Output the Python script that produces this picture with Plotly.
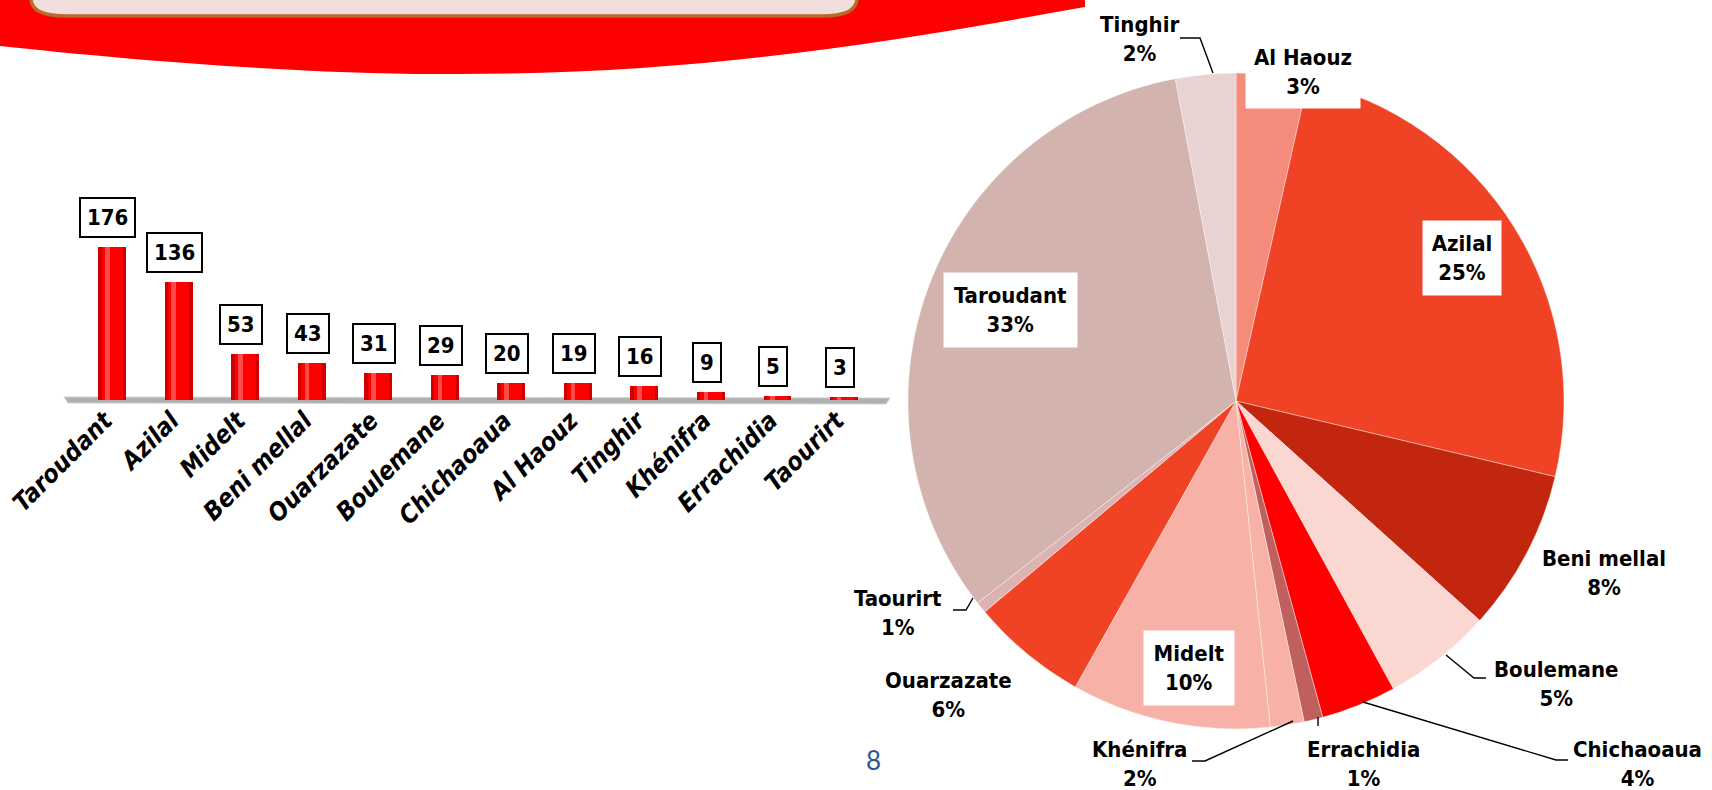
import plotly.graph_objects as go

W, H = 1712, 790

# ---------------- data ----------------
categories = ["Taroudant", "Azilal", "Midelt", "Beni mellal", "Ouarzazate", "Boulemane",
              "Chichaoaua", "Al Haouz", "Tinghir", "Khénifra", "Errachidia", "Taourirt"]
counts = [176, 136, 53, 43, 31, 29, 20, 19, 16, 9, 5, 3]

pie_labels = ["Al Haouz", "Azilal", "Beni mellal", "Boulemane", "Chichaoaua", "Errachidia",
              "Khénifra", "Midelt", "Ouarzazate", "Taourirt", "Taroudant", "Tinghir"]
pie_values = [19, 136, 43, 29, 20, 5, 9, 53, 31, 3, 176, 16]
pie_pct_text = ["3%", "25%", "8%", "5%", "4%", "1%", "2%", "10%", "6%", "1%", "33%", "2%"]

# ---------------- styles ----------------
FONT = "DejaVu Sans Condensed, DejaVu Sans, sans-serif"
pie_colors = ["#F58B7B", "#F04325", "#C3260E", "#FBD7D1", "#FF0000", "#C0605C",
              "#F7B1A6", "#F7B1A6", "#F04325", "#DDB3B2", "#D3B3AD", "#E8D2D2"]
# label placement (pixel centres), boxed flag, box size
pie_label_pos = {
    "Al Haouz": (1303, 72, True, 114, 72),
    "Azilal": (1462, 258, True, 78, 74),
    "Beni mellal": (1604, 573, False, 0, 0),
    "Boulemane": (1556, 684, False, 0, 0),
    "Chichaoaua": (1637, 764, False, 0, 0),
    "Errachidia": (1363, 764, False, 0, 0),
    "Khénifra": (1139, 764, False, 0, 0),
    "Midelt": (1189, 668, True, 90, 74),
    "Ouarzazate": (949, 695, False, 0, 0),
    "Taourirt": (898, 613, False, 0, 0),
    "Taroudant": (1010, 310, True, 133, 74),
    "Tinghir": (1139, 39, False, 0, 0),
}
leaders = [
    [(1180, 38), (1200, 38), (1213, 73)],
    [(1446, 655), (1474, 678), (1486, 678)],
    [(1363, 702), (1556, 760), (1568, 760)],
    [(1318, 717), (1318, 726)],
    [(1293, 721), (1205, 761), (1192, 761)],
    [(953, 610), (966, 610), (973, 598)],
]


def PX(x):
    return x / W


def PY(y):
    return 1 - y / H


def P(x, y):
    return f"{PX(x):.5f},{PY(y):.5f}"


fig = go.Figure()

# cylinder-like bars: dark base, bright body, highlight
fig.add_trace(go.Bar(x=categories, y=counts, width=0.42, marker=dict(color="#D00000", line=dict(width=0)),
                     hoverinfo="skip", showlegend=False))
fig.add_trace(go.Bar(x=categories, y=counts, width=0.32, marker=dict(color="#FF0000", line=dict(width=0)),
                     hoverinfo="skip", showlegend=False))
fig.add_trace(go.Bar(x=categories, y=counts, width=0.07, offset=-0.11,
                     marker=dict(color="#FF4A4A", line=dict(width=0)),
                     hoverinfo="skip", showlegend=False))

fig.add_trace(go.Pie(
    labels=pie_labels, values=pie_values, sort=False, direction="clockwise", rotation=0,
    marker=dict(colors=pie_colors, line=dict(color="white", width=0.4)),
    textinfo="none", hoverinfo="label+percent", showlegend=False,
    domain=dict(x=[PX(908), PX(1564)], y=[PY(729), PY(73)]),
))

annotations = []
# value labels on bars
for c, v in zip(categories, counts):
    annotations.append(dict(
        x=c, y=v, xref="x", yref="y", text=f"<b>{v}</b>", showarrow=False,
        yanchor="bottom", yshift=9, xshift=-4,
        font=dict(family=FONT, size=22, color="black"),
        bgcolor="white", bordercolor="black", borderwidth=2, borderpad=6,
    ))

# pie labels
for lab, pct in zip(pie_labels, pie_pct_text):
    x, y, boxed, bw, bh = pie_label_pos[lab]
    a = dict(x=PX(x), y=PY(y), xref="paper", yref="paper", showarrow=False,
             text=f"<b>{lab}<br>{pct}</b>", align="center",
             xanchor="center", yanchor="middle",
             font=dict(family=FONT, size=22, color="black"))
    if boxed:
        a.update(bgcolor="white", width=bw, height=bh, borderpad=0)
    annotations.append(a)

# page number
annotations.append(dict(x=PX(873), y=PY(760), xref="paper", yref="paper", showarrow=False,
                        text="8", font=dict(family="Lato, Carlito, sans-serif", size=26, color="#2E5597"),
                        xanchor="center", yanchor="middle"))

shapes = []
# red banner
banner = (f"M {P(0, 0)} L {P(1085, 0)} L {P(1085, 7)} "
          f"C {P(900, 40)} {P(700, 76)} {P(437, 74)} "
          f"C {P(300, 74)} {P(130, 60)} {P(0, 46)} Z")
shapes.append(dict(type="path", path=banner, xref="paper", yref="paper",
                   fillcolor="#FF0000", line=dict(width=0), layer="below"))
rrect = (f"M {P(31, -6)} L {P(31, 0)} C {P(32, 11)} {P(45, 16)} {P(67, 16)} "
         f"L {P(822, 16)} C {P(845, 16)} {P(855, 11)} {P(857, 0)} L {P(857, -6)} Z")
shapes.append(dict(type="path", path=rrect, xref="paper", yref="paper",
                   fillcolor="#F2DEDC", line=dict(color="#B86A2B", width=3.5), layer="below"))
# floor under bars
floor = f"M {P(64, 397)} L {P(890, 398)} L {P(886, 404)} L {P(68, 403)} Z"
shapes.append(dict(type="path", path=floor, xref="paper", yref="paper",
                   fillcolor="#B0B0B0", line=dict(color="#D0D0D0", width=1), layer="below"))
# leader lines
for pts in leaders:
    d = "M " + " L ".join(P(x, y) for x, y in pts)
    shapes.append(dict(type="path", path=d, xref="paper", yref="paper",
                       line=dict(color="black", width=1.4), layer="above"))

fig.update_layout(
    width=W, height=H, margin=dict(l=0, r=0, t=0, b=0, autoexpand=False),
    paper_bgcolor="white", plot_bgcolor="rgba(0,0,0,0)",
    barmode="overlay", bargap=0,
    xaxis=dict(domain=[PX(78.7), PX(877)], range=[-0.5, 11.5], showgrid=False, zeroline=False,
               showline=False, ticks="", tickangle=-45, automargin=False, ticklabelshift=-7,
               tickfont=dict(family=FONT, size=25, color="black", weight="bold", style="italic")),
    yaxis=dict(domain=[PY(400), PY(200)], range=[0, 230], showgrid=False, zeroline=False,
               showline=False, showticklabels=False, ticks="", automargin=False),
    annotations=annotations, shapes=shapes,
)

fig.write_html("out.html", config={"displayModeBar": False},
               post_script="document.body.style.margin='0px';document.body.style.overflow='hidden';")
